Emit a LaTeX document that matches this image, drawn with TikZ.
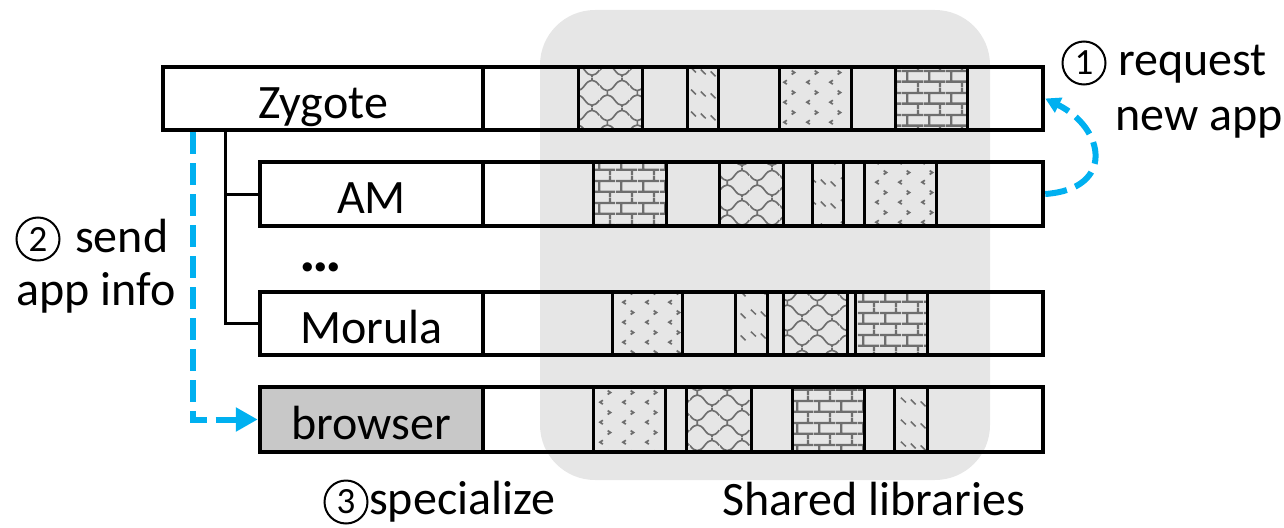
\documentclass[tikz,border=0pt]{standalone}
\usepackage{fontspec}
\setmainfont{Carlito}
\usetikzlibrary{patterns.meta,arrows.meta}

\definecolor{libgray}{HTML}{E6E6E6}
\definecolor{procgray}{HTML}{C8C8C8}
\definecolor{texgray}{HTML}{6E6E6E}
\definecolor{flowblue}{HTML}{00B0F0}

% --- textures of the shared library blocks ---
\tikzdeclarepattern{
  name=brickwall, type=uncolored,
  bounding box={(0pt,0pt) and (22pt,22pt)},
  tile size={(22pt,22pt)},
  code={
    \draw[line width=2.4pt] (0pt,5.5pt) -- (22pt,5.5pt) (0pt,16.5pt) -- (22pt,16.5pt)
      (5.5pt,5.5pt) -- (5.5pt,16.5pt)
      (16.5pt,0pt) -- (16.5pt,5.5pt) (16.5pt,16.5pt) -- (16.5pt,22pt);
  }
}
\tikzdeclarepattern{
  name=divot, type=uncolored,
  bounding box={(0pt,0pt) and (23pt,20pt)},
  tile size={(23pt,20pt)},
  code={
    \draw[line width=1.8pt] (10pt,17pt) -- (13pt,15pt) -- (10pt,13pt);
    \draw[line width=1.8pt] (5pt,7pt) -- (2pt,5pt) -- (5pt,3pt);
  }
}
\tikzdeclarepattern{
  name=slashes, type=uncolored,
  bounding box={(0pt,0pt) and (30pt,22pt)},
  tile size={(30pt,22pt)},
  code={
    \draw[line width=1.6pt] (1pt,20pt) -- (6pt,15pt) (11pt,18pt) -- (16pt,13pt)
      (21pt,16pt) -- (26pt,11pt);
  }
}
\tikzdeclarepattern{
  name=cobble, type=uncolored,
  bounding box={(0pt,0pt) and (30pt,30pt)},
  tile size={(30pt,30pt)},
  code={
    \draw[line width=1.7pt] (0pt,7pt) .. controls (5pt,14pt) and (10pt,14pt) .. (15pt,7pt)
      .. controls (20pt,0pt) and (25pt,0pt) .. (30pt,7pt);
    \draw[line width=1.7pt] (0pt,22pt) .. controls (5pt,15pt) and (10pt,15pt) .. (15pt,22pt)
      .. controls (20pt,29pt) and (25pt,29pt) .. (30pt,22pt);
    \draw[line width=1.7pt] (7.5pt,12.2pt) -- (7.5pt,16.8pt);
    \draw[line width=1.7pt] (22.5pt,27.2pt) -- (22.5pt,30pt) (22.5pt,0pt) -- (22.5pt,1.8pt);
  }
}

\newcommand\libblock[5]{\draw[libblk,pattern={#5}] (#1,#3) rectangle (#2,#4);}

\begin{document}
\begin{tikzpicture}[x=1pt,y=-1pt,
  font=\fontsize{48}{56}\selectfont,
  rowbox/.style={draw, line width=4.5pt, inner sep=0pt},
  cellbox/.style={rowbox, text height=39pt, text depth=0pt},
  libblk/.style={draw, line width=3pt, pattern color=texgray},
  tree/.style={line width=3pt},
  flow/.style={draw=flowblue, line width=6pt, dash pattern=on 22pt off 9pt},
  lbl/.style={inner sep=0pt, anchor=base west},
  stepnum/.style={circle, draw, line width=2pt, minimum size=43pt, inner sep=0pt,
    font=\fontsize{37}{37}\selectfont}]
\useasboundingbox (0,0) rectangle (1284,527);

% shared library region
\node[fill=libgray, rounded corners=55pt, minimum width=450pt, minimum height=470pt,
  inner sep=0pt] (libs) at (765,245) {};

% library blocks mapped into each process
\libblock{578}{642}{67}{130}{cobble}
\libblock{687}{718}{67}{130}{slashes}
\libblock{779}{851}{67}{130}{divot}
\libblock{895}{967}{67}{130}{brickwall}

\libblock{593}{666}{162}{226}{brickwall}
\libblock{719}{783}{162}{226}{cobble}
\libblock{812}{843}{162}{226}{slashes}
\libblock{864}{936}{162}{226}{divot}

\libblock{612}{682}{292}{355}{divot}
\libblock{735}{767}{292}{355}{slashes}
\libblock{783}{847}{292}{355}{cobble}
\libblock{855}{927}{292}{355}{brickwall}

\libblock{593}{665}{387}{452}{divot}
\libblock{686}{751}{387}{452}{cobble}
\libblock{792}{864}{387}{452}{brickwall}
\libblock{894}{927}{387}{452}{slashes}

% process rows
\node[rowbox, minimum width=880pt, minimum height=63pt] (zyg) at (603,98.5) {};
\node[rowbox, minimum width=783pt, minimum height=64pt] (am) at (651.5,194) {};
\node[rowbox, minimum width=783pt, minimum height=63pt] (mor) at (651.5,323.5) {};
\node[rowbox, minimum width=783pt, minimum height=65pt] (brw) at (651.5,419.5) {};

% process name cells
\node[cellbox, minimum width=320pt, minimum height=63pt] (zygc) at (323,98.5) {Zygote};
\node[cellbox, minimum width=223pt, minimum height=64pt] (amc) at (371.5,194) {AM};
\node[cellbox, minimum width=223pt, minimum height=63pt] (morc) at (371.5,323.5) {Morula};
\node[cellbox, fill=procgray, minimum width=223pt, minimum height=65pt] (brwc) at (371.5,419.5) {browser};

\node[inner sep=0pt, anchor=base] (dots) at (321,271)
  {\fontsize{62}{62}\bfseries .\kern-3.5pt.\kern-3.5pt.};

% fork tree
\coordinate (fork) at ([xshift=65pt]zygc.south west);
\draw[tree] (fork) |- (amc.west);
\draw[tree] (fork) |- (morc.west);

% step 2: send app info
\draw[flow, -{Triangle[length=22pt,width=23pt]}] ([xshift=32pt]zygc.south west) |- (brwc.west);

% step 1: request new app
\draw[flow, -{Triangle[length=15pt,width=16pt]}] (am.east) .. controls +(70,-5) and +(60,30) .. (zyg.east);

% labels
\node[stepnum] (c1) at (1084,63) {1};
\node[lbl] (req) at (1118,75) {request};
\node[lbl] (newapp) at (1115,130) {new app};
\node[stepnum] (c2) at (38,239) {2};
\node[lbl] (send) at (75,252) {send};
\node[lbl] (info) at (16,305) {app info};
\node[stepnum] (c3) at (346,502) {3};
\node[lbl] (spec) at (369,514) {specialize};
\node[lbl] (shared) at (722,515) {Shared libraries};
\end{tikzpicture}
\end{document}
